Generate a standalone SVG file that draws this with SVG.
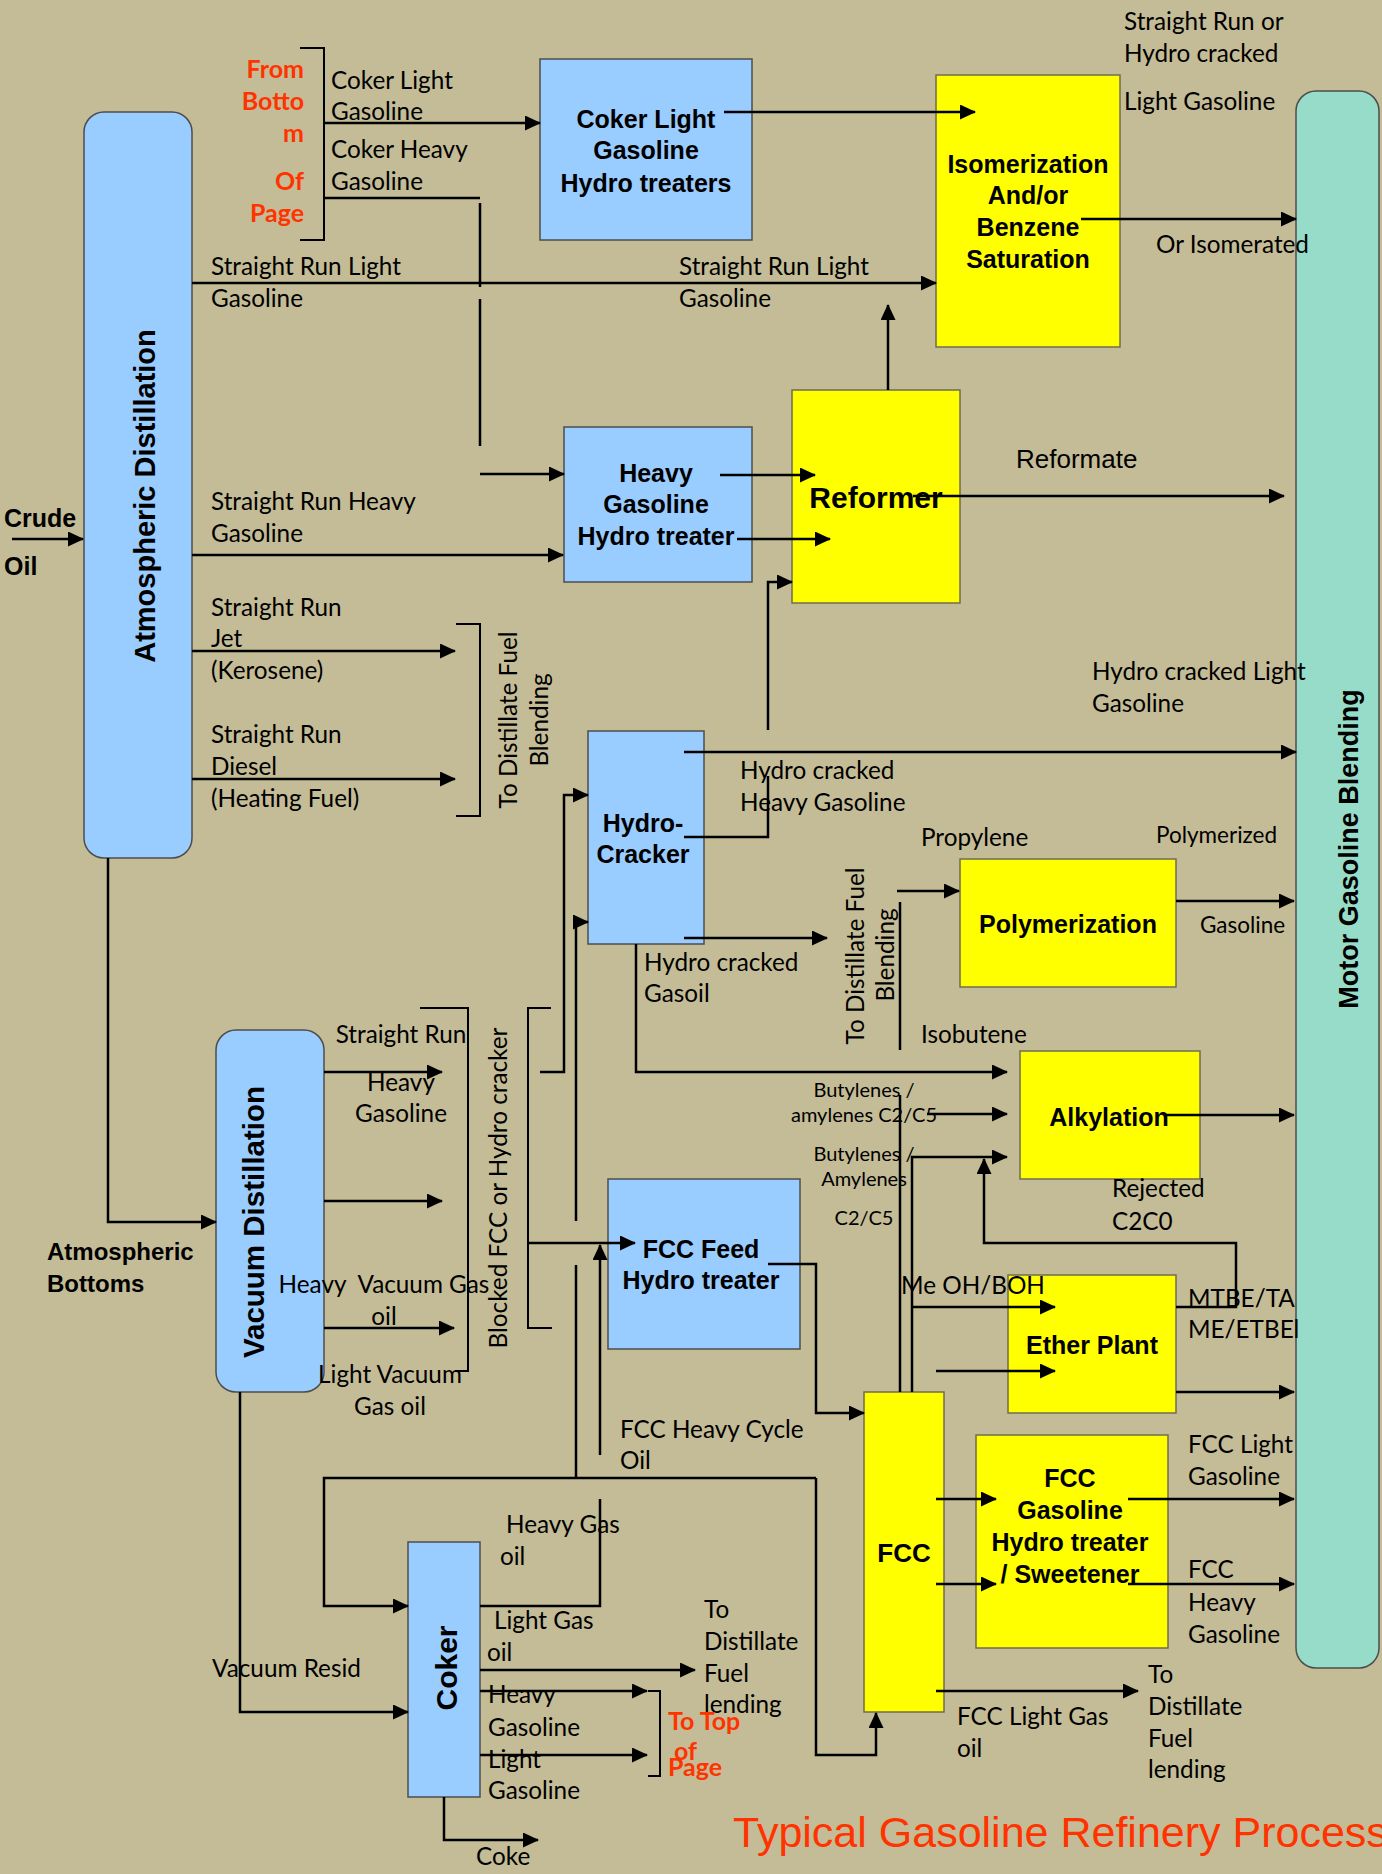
<svg xmlns="http://www.w3.org/2000/svg" width="1382" height="1874" viewBox="0 0 1382 1874">
<defs>
<marker id="ah" markerUnits="userSpaceOnUse" markerWidth="16" markerHeight="15" viewBox="0 0 16 15" refX="15" refY="7.5" orient="auto">
<path d="M0,0 L16,7.5 L0,15 Z" fill="#000"/>
</marker>
<style>
.bg{fill:#C4BC96}
.blue{fill:#99CCFF;stroke:#4d4d4d;stroke-width:1.5}
.yel{fill:#FFFF00;stroke:#6e6e50;stroke-width:1.5}
.teal{fill:#96DCC8;stroke:#4d4d4d;stroke-width:1.5}
.ln{fill:none;stroke:#000;stroke-width:2.5}
.a{marker-end:url(#ah)}
.br{fill:none;stroke:#000;stroke-width:2}
text{font-family:Lato,"Liberation Sans",sans-serif;fill:#000}
.lbl{font-size:24.3px}
.sm{font-size:20px}
.md{font-size:22.5px}
.red{font-size:25px;font-weight:bold;fill:#FF3300}
.bx{font-family:"Liberation Sans",Arial,sans-serif;font-size:25px;font-weight:bold;text-anchor:middle}
.bl{font-family:"Liberation Sans",Arial,sans-serif;font-size:24px;font-weight:bold}
.ar{font-family:"Liberation Sans",Arial,sans-serif}
.mid{text-anchor:middle}
.end{text-anchor:end}
</style>
</defs>
<rect class="bg" x="0" y="0" width="1382" height="1874"/>

<g id="atmospheric-distillation"><rect class="blue" x="84" y="112" width="108" height="746" rx="20"/><text class="bx" style="font-size:29px" transform="translate(155,496) rotate(-90)">Atmospheric Distillation</text></g>
<g id="coker-light-ht"><rect class="blue" x="540" y="59" width="212" height="181"/><text class="bx"><tspan x="646" y="128">Coker Light</tspan><tspan x="646" y="159">Gasoline</tspan><tspan x="646" y="192">Hydro treaters</tspan></text></g>
<g id="isomerization"><rect class="yel" x="936" y="75" width="184" height="272"/><text class="bx"><tspan x="1028" y="173">Isomerization</tspan><tspan x="1028" y="204">And/or</tspan><tspan x="1028" y="236">Benzene</tspan><tspan x="1028" y="268">Saturation</tspan></text></g>
<g id="motor-gasoline-blending"><rect class="teal" x="1296" y="91" width="83" height="1577" rx="20"/><text class="bx" style="font-size:27px" transform="translate(1358,849) rotate(-90)">Motor Gasoline Blending</text></g>
<g id="reformer"><rect class="yel" x="792" y="390" width="168" height="213"/><text class="bx" style="font-size:30px" x="876" y="508">Reformer</text></g>
<g id="heavy-gasoline-ht"><rect class="blue" x="564" y="427" width="188" height="155"/><text class="bx"><tspan x="656" y="482">Heavy</tspan><tspan x="656" y="513">Gasoline</tspan><tspan x="656" y="545">Hydro treater</tspan></text></g>
<g id="hydro-cracker"><rect class="blue" x="588" y="731" width="116" height="213"/><text class="bx"><tspan x="643" y="832">Hydro-</tspan><tspan x="643" y="863">Cracker</tspan></text></g>
<g id="polymerization"><rect class="yel" x="960" y="859" width="216" height="128"/><text class="bx" x="1068" y="933">Polymerization</text></g>
<g id="alkylation"><rect class="yel" x="1020" y="1051" width="180" height="128"/><text class="bx" x="1109" y="1126">Alkylation</text></g>
<g id="ether-plant"><rect class="yel" x="1008" y="1275" width="168" height="138"/><text class="bx" x="1092" y="1354">Ether Plant</text></g>
<g id="fcc-feed-ht"><rect class="blue" x="608" y="1179" width="192" height="170"/><text class="bx"><tspan x="701" y="1258">FCC Feed</tspan><tspan x="701" y="1289">Hydro treater</tspan></text></g>
<g id="fcc"><rect class="yel" x="864" y="1392" width="80" height="320"/><text class="bx" style="font-size:26px" x="904" y="1562">FCC</text></g>
<g id="fcc-gasoline-ht"><rect class="yel" x="976" y="1435" width="192" height="213"/><text class="bx"><tspan x="1070" y="1487">FCC</tspan><tspan x="1070" y="1519">Gasoline</tspan><tspan x="1070" y="1551">Hydro treater</tspan><tspan x="1070" y="1583">/ Sweetener</tspan></text></g>
<g id="vacuum-distillation"><rect class="blue" x="216" y="1030" width="108" height="362" rx="20"/><text class="bx" style="font-size:29.5px" transform="translate(264,1222) rotate(-90)">Vacuum Distillation</text></g>
<g id="coker"><rect class="blue" x="408" y="1542" width="72" height="255"/><text class="bx" style="font-size:30px" transform="translate(457,1668) rotate(-90)">Coker</text></g>

<g id="connectors">
<path class="br" d="M300,48 H324 V240 H300"/>
<path class="ln a" d="M324,123 H540"/>
<path class="ln" d="M324,198 H480 M480,203 V287 M480,299 V446"/>
<path class="ln a" d="M480,474 H564"/>
<path class="ln a" d="M192,283 H936"/>
<path class="ln a" d="M724,112 H975"/>
<path class="ln a" d="M1081,219 H1296"/>
<path class="ln a" d="M888,390 V305"/>
<path class="ln a" d="M720,475 H815"/>
<path class="ln a" d="M737,539 H830"/>
<path class="ln a" d="M913,496 H1284"/>
<path class="ln a" d="M768,730 V582 H792"/>
<path class="ln a" d="M684,752 H1296"/>
<path class="ln" d="M684,837 H768 V776"/>
<path class="ln a" d="M684,938 H827"/>
<path class="ln a" d="M636,944 V1072 H1007"/>
<path class="ln a" d="M540,1072 H564 V795 H588"/>
<path class="ln a" d="M576,1478 V1265 M576,1221 V922 H588"/>
<path class="br" d="M456,624 H480 V816 H456"/>
<path class="ln a" d="M192,555 H563"/>
<path class="ln a" d="M192,651 H455"/>
<path class="ln a" d="M192,779 H455"/>
<path class="ln a" d="M12,539 H83"/>
<path class="ln a" d="M108,858 V1222 H216"/>
<path class="ln a" d="M324,1072 H442"/>
<path class="ln a" d="M324,1201 H442"/>
<path class="ln a" d="M324,1328 H454"/>
<path class="br" d="M420,1008 H468 V1371 H455"/>
<path class="br" d="M551,1008 H528 V1328 H552"/>
<path class="ln a" d="M528,1243 H635"/>
<path class="ln a" d="M600,1455 V1245"/>
<path class="ln" d="M600,1499 V1606 H480"/>
<path class="ln a" d="M816,1478 H324 V1606 H408"/>
<path class="ln a" d="M816,1478 V1755 H876 V1713"/>
<path class="ln a" d="M768,1264 H816 V1413 H864"/>
<path class="ln a" d="M240,1392 V1712 H408"/>
<path class="ln a" d="M480,1670 H695"/>
<path class="ln a" d="M480,1691 H647"/>
<path class="ln a" d="M480,1755 H647"/>
<path class="br" d="M648,1691 H660 V1776 H648"/>
<path class="ln a" d="M444,1797 V1840 H538"/>
<path class="ln a" d="M897,891 H959"/>
<path class="ln" d="M900,902 V1050"/>
<path class="ln a" d="M1176,901 H1294"/>
<path class="ln a" d="M927,1114 H1007"/>
<path class="ln" d="M900,1095 V1392"/>
<path class="ln a" d="M912,1392 V1157 H1007"/>
<path class="ln a" d="M1176,1307 H1236 V1243 H984 V1159"/>
<path class="ln a" d="M912,1307 H1055"/>
<path class="ln a" d="M936,1371 H1055"/>
<path class="ln a" d="M1176,1392 H1294"/>
<path class="ln a" d="M1165,1115 H1294"/>
<path class="ln a" d="M936,1499 H996"/>
<path class="ln a" d="M936,1584 H996"/>
<path class="ln a" d="M1128,1499 H1294"/>
<path class="ln a" d="M1128,1584 H1294"/>
<path class="ln a" d="M936,1691 H1138"/>
</g>

<g id="labels">
<text class="red end"><tspan x="304" y="78">From</tspan><tspan x="304" y="110">Botto</tspan><tspan x="304" y="142">m</tspan><tspan x="304" y="190">Of</tspan><tspan x="304" y="222">Page</tspan></text>
<text class="lbl"><tspan x="331" y="89">Coker Light</tspan><tspan x="331" y="120">Gasoline</tspan></text>
<text class="lbl"><tspan x="331" y="158">Coker Heavy</tspan><tspan x="331" y="190">Gasoline</tspan></text>
<text class="lbl"><tspan x="211" y="275">Straight Run Light</tspan><tspan x="211" y="307">Gasoline</tspan></text>
<text class="lbl"><tspan x="679" y="275">Straight Run Light</tspan><tspan x="679" y="307">Gasoline</tspan></text>
<text class="lbl"><tspan x="1124" y="30">Straight Run or</tspan><tspan x="1124" y="62">Hydro cracked</tspan><tspan x="1124" y="110">Light Gasoline</tspan></text>
<text class="lbl" x="1156" y="253">Or Isomerated</text>
<text class="ar" style="font-size:26px" x="1016" y="468">Reformate</text>
<text class="bl" style="font-size:25px"><tspan x="4" y="527">Crude</tspan><tspan x="4" y="575">Oil</tspan></text>
<text class="lbl"><tspan x="211" y="510">Straight Run Heavy</tspan><tspan x="211" y="542">Gasoline</tspan></text>
<text class="lbl"><tspan x="211" y="616">Straight Run</tspan><tspan x="211" y="647">Jet</tspan><tspan x="211" y="679">(Kerosene)</tspan></text>
<text class="lbl"><tspan x="211" y="743">Straight Run</tspan><tspan x="211" y="775">Diesel</tspan><tspan x="211" y="807">(Heating Fuel)</tspan></text>
<text class="lbl mid" transform="translate(517,720) rotate(-90)">To Distillate Fuel</text>
<text class="lbl mid" transform="translate(548,720) rotate(-90)">Blending</text>
<text class="lbl"><tspan x="1092" y="680">Hydro cracked Light</tspan><tspan x="1092" y="712">Gasoline</tspan></text>
<text class="lbl"><tspan x="740" y="779">Hydro cracked</tspan><tspan x="740" y="811">Heavy Gasoline</tspan></text>
<text class="lbl"><tspan x="644" y="971">Hydro cracked</tspan><tspan x="644" y="1002">Gasoil</tspan></text>
<text class="lbl" x="921" y="846">Propylene</text>
<text class="md" x="1156" y="843">Polymerized</text>
<text class="md" x="1200" y="933">Gasoline</text>
<text class="lbl mid" transform="translate(864,956) rotate(-90)">To Distillate Fuel</text>
<text class="lbl mid" transform="translate(894,955) rotate(-90)">Blending</text>
<text class="lbl" x="921" y="1043">Isobutene</text>
<text class="sm mid"><tspan x="864" y="1097">Butylenes /</tspan><tspan x="864" y="1122">amylenes C2/C5</tspan><tspan x="864" y="1161">Butylenes /</tspan><tspan x="864" y="1186">Amylenes</tspan><tspan x="864" y="1225">C2/C5</tspan></text>
<text class="lbl"><tspan x="1112" y="1197">Rejected</tspan><tspan x="1112" y="1230">C2C0</tspan></text>
<text class="lbl" x="901" y="1294">Me OH/BOH</text>
<text class="lbl"><tspan x="1188" y="1307">MTBE/TA</tspan><tspan x="1188" y="1338">ME/ETBEl</tspan></text>
<text class="lbl mid"><tspan x="401" y="1043">Straight Run</tspan><tspan x="401" y="1091">Heavy</tspan><tspan x="401" y="1122">Gasoline</tspan></text>
<text class="lbl mid"><tspan x="384" y="1293">Heavy&#160; Vacuum Gas</tspan><tspan x="384" y="1325">oil</tspan></text>
<text class="lbl mid"><tspan x="390" y="1383">Light Vacuum</tspan><tspan x="390" y="1415">Gas oil</tspan></text>
<text class="bl"><tspan x="47" y="1260">Atmospheric</tspan><tspan x="47" y="1292">Bottoms</tspan></text>
<text class="lbl mid" transform="translate(507,1188) rotate(-90)">Blocked FCC or Hydro cracker</text>
<text class="lbl"><tspan x="620" y="1438">FCC Heavy Cycle</tspan><tspan x="620" y="1469">Oil</tspan></text>
<text class="lbl"><tspan x="506" y="1533">Heavy Gas</tspan><tspan x="500" y="1565">oil</tspan></text>
<text class="lbl"><tspan x="494" y="1629">Light Gas</tspan><tspan x="487" y="1661">oil</tspan></text>
<text class="lbl"><tspan x="488" y="1703">Heavy</tspan><tspan x="488" y="1736">Gasoline</tspan><tspan x="488" y="1768">Light</tspan><tspan x="488" y="1799">Gasoline</tspan></text>
<text class="lbl"><tspan x="704" y="1618">To</tspan><tspan x="704" y="1650">Distillate</tspan><tspan x="704" y="1682">Fuel</tspan><tspan x="704" y="1713">lending</tspan></text>
<text class="red"><tspan x="668" y="1730">To Top</tspan><tspan x="674" y="1760">of</tspan><tspan x="668" y="1776">Page</tspan></text>
<text class="lbl" x="476" y="1865">Coke</text>
<text class="lbl" x="212" y="1677">Vacuum Resid</text>
<text class="lbl"><tspan x="1188" y="1453">FCC Light</tspan><tspan x="1188" y="1485">Gasoline</tspan></text>
<text class="lbl"><tspan x="1188" y="1578">FCC</tspan><tspan x="1188" y="1611">Heavy</tspan><tspan x="1188" y="1643">Gasoline</tspan></text>
<text class="lbl"><tspan x="1148" y="1683">To</tspan><tspan x="1148" y="1715">Distillate</tspan><tspan x="1148" y="1747">Fuel</tspan><tspan x="1148" y="1778">lending</tspan></text>
<text class="lbl"><tspan x="957" y="1725">FCC Light Gas</tspan><tspan x="957" y="1757">oil</tspan></text>
<text class="ar" style="font-size:43px;fill:#FF3300" x="733" y="1847">Typical Gasoline Refinery Process</text>
</g>
</svg>
